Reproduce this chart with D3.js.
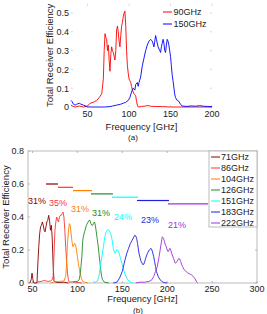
<!DOCTYPE html>
<html><head><meta charset="utf-8">
<script src="https://cdn.jsdelivr.net/npm/d3@7"></script>
<style>body{margin:0;background:#fff}svg{display:block}text{font-family:"Liberation Sans",Arial,sans-serif}</style>
</head><body><svg id="c" width="267" height="314"></svg>
<script>
// ---------- Panel (a) data ----------
const aSeriesNames = ["90GHz", "150GHz"];
const aColors = ["#ff0000", "#0000ff"];
const a90 = [[30,0.01],[32,0.005],[35,0.0],[40,0.005],[45,0.0],[50,0.005],[53,0.02],[57,0.025],[61,0.035],[64,0.05],[67,0.07],[69,0.15],[70,0.3],[71,0.39],[72,0.37],[73,0.36],[74,0.30],[75,0.33],[76,0.25],[77,0.19],[78,0.28],[79,0.32],[80,0.30],[81,0.29],[82,0.27],[83,0.25],[84,0.30],[85,0.41],[86,0.43],[87,0.40],[88,0.35],[89,0.32],[90,0.38],[91,0.43],[92,0.45],[93,0.48],[94,0.50],[95,0.51],[96,0.43],[97,0.30],[98,0.22],[99,0.18],[100,0.15],[101,0.14],[102,0.13],[103,0.11],[104,0.09],[105,0.08],[106,0.07],[107,0.065],[108,0.06],[109,0.03],[110,0.01],[111,0.0],[115,0.003],[120,0.005],[123,0.008],[126,0.004],[130,0.003],[140,0.002],[150,0.0],[200,0.0]];
const a150 = [[30,0.035],[31,0.03],[33,0.015],[35,0.01],[37,0.015],[40,0.02],[42,0.015],[45,0.01],[48,0.005],[50,0.0],[60,0.0],[70,0.0],[77,0.002],[80,0.005],[85,0.01],[90,0.015],[93,0.02],[96,0.025],[99,0.035],[101,0.05],[103,0.08],[105,0.1],[107,0.09],[108,0.12],[110,0.13],[111,0.11],[112,0.13],[114,0.16],[116,0.22],[118,0.26],[120,0.30],[122,0.33],[124,0.35],[126,0.36],[128,0.35],[130,0.32],[131,0.35],[132,0.38],[133,0.36],[135,0.32],[137,0.30],[138,0.29],[139,0.32],[141,0.36],[142,0.34],[143,0.30],[144,0.29],[145,0.33],[146,0.36],[147,0.35],[148,0.33],[150,0.27],[151,0.22],[152,0.17],[153,0.14],[155,0.07],[156,0.05],[158,0.035],[160,0.03],[162,0.015],[164,0.005],[170,0.003],[175,0.006],[180,0.004],[185,0.007],[190,0.004],[195,0.003],[200,0.002]];
const aXTicks = [50, 100, 150, 200];
const aYTicks = [0, 0.1, 0.2, 0.3, 0.4, 0.5];

// ---------- Panel (b) data ----------
const bSeriesNames = ["71GHz","86GHz","104GHz","126GHz","151GHz","183GHz","222GHz"];
const bColors = ["#8b0000","#ff3333","#ff8000","#228b22","#00ffff","#1f1fdd","#a030e0"];
const b71 = [[47,0],[48.5,0.02],[49.5,0.06],[50.5,0.02],[51.5,0],[55,0.0],[56,0.12],[57,0.22],[58,0.3],[59,0.34],[60,0.35],[61,0.37],[62,0.35],[63,0.32],[64,0.31],[65,0.34],[66,0.37],[67,0.38],[68,0.41],[69,0.38],[70,0.32],[71,0.35],[72,0.27],[73,0.1],[74,0.01],[76,0.005],[80,0.003],[85,0.005],[90,0.0]];
const b86 = [[55,0.005],[60,0.01],[63,0.015],[67,0.01],[70,0.012],[72,0.02],[73,0.04],[74,0.18],[75,0.32],[76,0.37],[77,0.40],[78,0.38],[79,0.37],[80,0.40],[81,0.41],[82,0.41],[83,0.42],[84,0.43],[85,0.40],[86,0.32],[87,0.22],[88,0.13],[89,0.06],[90,0.02],[91,0.005],[95,0.008],[100,0.004],[105,0.0]];
const b104 = [[70,0.0],[75,0.008],[80,0.01],[85,0.012],[87,0.04],[88,0.12],[89,0.24],[90,0.31],[91,0.36],[92,0.35],[93,0.3],[94,0.25],[95,0.22],[96,0.23],[97,0.24],[98,0.23],[99,0.2],[100,0.16],[101,0.12],[102,0.09],[103,0.06],[104,0.04],[105,0.02],[106,0.01],[108,0.005],[112,0.0]];
const b126 = [[95,0.005],[100,0.01],[102,0.02],[103,0.05],[104,0.1],[105,0.16],[106,0.26],[107,0.29],[108,0.31],[110,0.35],[112,0.37],[113,0.38],[114,0.38],[115,0.36],[116,0.35],[117,0.35],[118,0.36],[119,0.37],[120,0.35],[121,0.31],[122,0.27],[123,0.23],[124,0.18],[125,0.13],[126,0.08],[127,0.04],[128,0.02],[130,0.005],[135,0.0]];
const b151 = [[118,0.0],[119,0.01],[120,0.005],[122,0.01],[124,0.04],[125,0.08],[127,0.15],[129,0.22],[130,0.26],[131,0.29],[132,0.31],[133,0.32],[134,0.325],[135,0.32],[136,0.31],[137,0.30],[138,0.28],[139,0.25],[140,0.21],[141,0.19],[142,0.18],[143,0.19],[144,0.2],[145,0.2],[146,0.19],[147,0.17],[148,0.15],[150,0.11],[152,0.07],[154,0.04],[156,0.02],[158,0.01],[160,0.003],[162,0.0]];
const b183 = [[140,0],[144,0.005],[147,0.03],[150,0.07],[153,0.14],[155,0.18],[157,0.21],[159,0.24],[161,0.26],[163,0.28],[164,0.29],[165,0.285],[166,0.27],[167,0.24],[168,0.2],[169,0.17],[170,0.15],[171,0.13],[172,0.12],[173,0.11],[174,0.115],[175,0.13],[176,0.15],[178,0.18],[180,0.2],[182,0.21],[183,0.2],[184,0.18],[185,0.16],[186,0.13],[187,0.1],[188,0.07],[190,0.04],[192,0.02],[194,0.01],[196,0.003],[200,0.0]];
const b222 = [[165,0.0],[170,0.005],[175,0.005],[180,0.01],[183,0.02],[185,0.04],[187,0.07],[189,0.1],[191,0.16],[193,0.23],[194.5,0.28],[196,0.27],[197,0.25],[198,0.23],[199,0.22],[200,0.2],[201,0.19],[202,0.2],[203,0.21],[204,0.2],[205,0.18],[207,0.15],[209,0.12],[211,0.13],[213,0.15],[214,0.145],[215,0.13],[217,0.1],[219,0.08],[221,0.07],[223,0.06],[225,0.055],[227,0.05],[229,0.04],[231,0.025],[233,0.005],[234,0.0]];
const bSeries = [b71, b86, b104, b126, b151, b183, b222];
// bandwidth bars: start GHz, end GHz, level
const bBandStart = [65, 78.4, 95.1, 115.1, 138.5, 166.4, 200.9];
const bBandEnd   = [78.4, 95.1, 116.3, 139.6, 167.5, 202, 245.4];
const bBandLevel = [0.6, 0.58, 0.56, 0.54, 0.52, 0.50, 0.48];
// efficiency annotations: text, frequency, efficiency
const bPctText = ["31%","35%","31%","31%","24%","23%","21%"];
const bPctFreq = [55.0, 78.4, 102.9, 126.3, 150.8, 180.8, 210.9];
const bPctEff  = [0.497, 0.485, 0.448, 0.424, 0.40, 0.382, 0.352];
const bXTicks = [50, 100, 150, 200, 250, 300];
const bYTicks = [0, 0.2, 0.4, 0.6, 0.8];

const svg = d3.select("#c");
const FS = 9;
const tickCol = "#222";

// ---------- Panel (a) ----------
const ax = d3.scaleLinear().domain([30, 200]).range([71, 212]);
const ay = d3.scaleLinear().domain([0, 0.55]).range([107, 3.6]);
const ga = svg.append("g");
const tA = ga.append("g").attr("stroke", "#ccc").attr("stroke-width", 0.8);
aXTicks.forEach(t => {
  tA.append("line").attr("x1", ax(t)).attr("x2", ax(t)).attr("y1", ay(0)).attr("y2", ay(0) - 2);
  tA.append("line").attr("x1", ax(t)).attr("x2", ax(t)).attr("y1", ay.range()[1]).attr("y2", ay.range()[1] + 2);
});
aYTicks.forEach(t => {
  tA.append("line").attr("x1", ax.range()[0]).attr("x2", ax.range()[0] + 2).attr("y1", ay(t)).attr("y2", ay(t));
  tA.append("line").attr("x1", ax.range()[1]).attr("x2", ax.range()[1] - 2).attr("y1", ay(t)).attr("y2", ay(t));
});
ga.selectAll(".xl").data(aXTicks).join("text").attr("x", d => ax(d)).attr("y", ay(0) + 10)
  .attr("text-anchor", "middle").attr("font-size", FS).attr("fill", tickCol).text(d => d);
ga.selectAll(".yl").data(aYTicks).join("text").attr("x", ax.range()[0] - 2).attr("y", d => ay(d) + 3.3)
  .attr("text-anchor", "end").attr("font-size", FS).attr("fill", tickCol).text(d => d === 0 ? "0" : d3.format(".1f")(d));
const lineA = d3.line().x(d => ax(d[0])).y(d => ay(d[1]));
[a90, a150].forEach((s, i) => {
  ga.append("path").datum(s).attr("d", lineA).attr("fill", "none").attr("stroke", aColors[i]).attr("stroke-width", 0.9).attr("stroke-linejoin", "round");
});
ga.append("text").attr("x", (ax.range()[0] + ax.range()[1]) / 2).attr("y", 130).attr("text-anchor", "middle")
  .attr("font-size", FS + 0.5).attr("fill", tickCol).text("Frequency [GHz]");
ga.append("text").attr("transform", `translate(53,${(ay.range()[0] + ay.range()[1]) / 2}) rotate(-90)`)
  .attr("text-anchor", "middle").attr("font-size", FS + 0.5).attr("fill", tickCol).text("Total Receiver Efficiency");
ga.append("text").attr("x", 133).attr("y", 140).attr("text-anchor", "middle").attr("font-size", 8).attr("fill", tickCol).text("(a)");
aSeriesNames.forEach((n, i) => {
  const y = 12 + i * 12;
  ga.append("line").attr("x1", 163).attr("x2", 172).attr("y1", y).attr("y2", y).attr("stroke", aColors[i]).attr("stroke-width", 1);
  ga.append("text").attr("x", 173.5).attr("y", y + 3.2).attr("font-size", FS).attr("fill", tickCol).text(n);
});

// ---------- Panel (b) ----------
const bx = d3.scaleLinear().domain([45, 300]).range([28, 257]);
const by = d3.scaleLinear().domain([0, 0.8]).range([283, 151]);
const gb = svg.append("g");
gb.append("rect").attr("x", bx.range()[0]).attr("y", by.range()[1]).attr("width", bx.range()[1] - bx.range()[0])
  .attr("height", by.range()[0] - by.range()[1]).attr("fill", "#fff").attr("stroke", "#aaa").attr("stroke-width", 0.8);
const tB = gb.append("g").attr("stroke", "#aaa").attr("stroke-width", 0.8);
bXTicks.forEach(t => {
  tB.append("line").attr("x1", bx(t)).attr("x2", bx(t)).attr("y1", by(0)).attr("y2", by(0) - 2);
  tB.append("line").attr("x1", bx(t)).attr("x2", bx(t)).attr("y1", by.range()[1]).attr("y2", by.range()[1] + 2);
});
bYTicks.forEach(t => {
  tB.append("line").attr("x1", bx.range()[0]).attr("x2", bx.range()[0] + 2).attr("y1", by(t)).attr("y2", by(t));
  tB.append("line").attr("x1", bx.range()[1]).attr("x2", bx.range()[1] - 2).attr("y1", by(t)).attr("y2", by(t));
});
gb.selectAll(".xl").data(bXTicks).join("text").attr("x", d => bx(d)).attr("y", by(0) + 9)
  .attr("text-anchor", "middle").attr("font-size", FS).attr("fill", tickCol).text(d => d);
gb.selectAll(".yl").data(bYTicks).join("text").attr("x", bx.range()[0] - 4).attr("y", d => by(d) + 3.3)
  .attr("text-anchor", "end").attr("font-size", FS).attr("fill", tickCol).text(d => d === 0 ? "0" : d3.format(".1f")(d));
const lineB = d3.line().x(d => bx(d[0])).y(d => by(d[1]));
bSeries.forEach((s, i) => {
  gb.append("path").datum(s).attr("d", lineB).attr("fill", "none").attr("stroke", bColors[i]).attr("stroke-width", 0.9).attr("stroke-linejoin", "round");
});
bBandStart.forEach((s, i) => {
  gb.append("line").attr("x1", bx(s)).attr("x2", bx(bBandEnd[i])).attr("y1", by(bBandLevel[i])).attr("y2", by(bBandLevel[i]))
    .attr("stroke", bColors[i]).attr("stroke-width", 1.2);
});
bPctText.forEach((t, i) => {
  gb.append("text").attr("x", bx(bPctFreq[i])).attr("y", by(bPctEff[i]) + 3.2).attr("text-anchor", "middle")
    .attr("font-size", FS).attr("fill", bColors[i]).text(t);
});
gb.append("text").attr("x", (bx.range()[0] + bx.range()[1]) / 2).attr("y", 301.5).attr("text-anchor", "middle")
  .attr("font-size", FS + 0.3).attr("fill", tickCol).text("Frequency [GHz]");
gb.append("text").attr("transform", `translate(9,${(by.range()[0] + by.range()[1]) / 2}) rotate(-90)`)
  .attr("text-anchor", "middle").attr("font-size", FS + 0.5).attr("fill", tickCol).text("Total Receiver Efficiency");
gb.append("text").attr("x", 138).attr("y", 312.5).attr("text-anchor", "middle").attr("font-size", 8).attr("fill", tickCol).text("(b)");
const lg = gb.append("g");
lg.append("rect").attr("x", 209).attr("y", 151).attr("width", 48).attr("height", 76).attr("fill", "#fff").attr("stroke", "#aaa").attr("stroke-width", 0.8);
bSeriesNames.forEach((n, i) => {
  const y = 157 + i * 11;
  lg.append("line").attr("x1", 211).attr("x2", 220).attr("y1", y).attr("y2", y).attr("stroke", bColors[i]).attr("stroke-width", 1);
  lg.append("text").attr("x", 221).attr("y", y + 3.2).attr("font-size", FS).attr("fill", tickCol).text(n);
});
</script></body></html>
